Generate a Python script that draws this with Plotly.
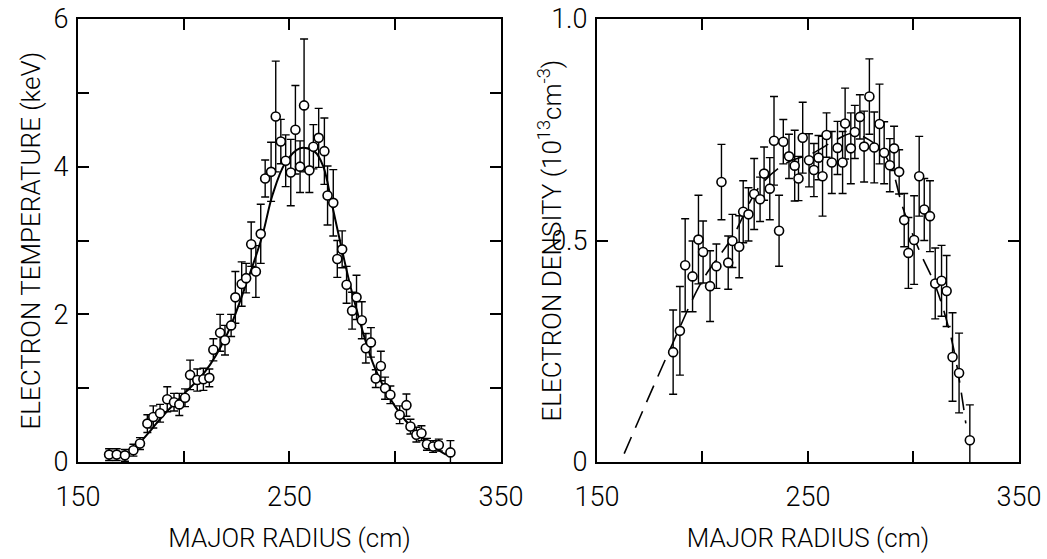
import plotly.graph_objects as go

# ---- Left panel: electron temperature ----
r_te = [164.7, 168.3, 172.2, 176.2, 179.3, 182.8, 185.6, 188.8, 192.2, 195.4,
        197.9, 200.6, 203.0, 206.4, 209.3, 212.1, 214.0, 217.2, 219.5, 222.4,
        224.4, 227.4, 229.5, 231.9, 234.1, 236.4, 238.5, 241.3, 243.5, 245.9,
        248.2, 250.6, 252.8, 255.0, 256.9, 259.4, 261.3, 263.8, 266.5, 268.0,
        270.7, 272.6, 274.9, 277.0, 279.6, 281.7, 284.2, 286.1, 288.5, 290.8,
        293.2, 295.2, 297.7, 302.1, 305.3, 307.2, 310.0, 312.4, 315.0, 317.9,
        320.6, 326.1]
te = [0.10, 0.10, 0.09, 0.16, 0.25, 0.52, 0.61, 0.66, 0.85, 0.81,
      0.78, 0.87, 1.18, 1.11, 1.12, 1.14, 1.52, 1.75, 1.65, 1.85,
      2.23, 2.41, 2.49, 2.95, 2.58, 3.09, 3.84, 3.93, 4.68, 4.34,
      4.08, 3.92, 4.50, 4.00, 4.83, 3.95, 4.27, 4.39, 4.21, 3.61,
      3.51, 2.75, 2.88, 2.40, 2.05, 2.23, 1.92, 1.54, 1.62, 1.13,
      1.30, 1.00, 0.91, 0.64, 0.77, 0.48, 0.37, 0.39, 0.24, 0.21,
      0.23, 0.13]
te_err = [0.08, 0.08, 0.08, 0.08, 0.08, 0.12, 0.15, 0.12, 0.17, 0.12,
          0.15, 0.12, 0.20, 0.15, 0.15, 0.12, 0.15, 0.25, 0.20, 0.15,
          0.35, 0.30, 0.20, 0.30, 0.35, 0.40, 0.25, 0.40, 0.75, 0.30,
          0.35, 0.45, 0.60, 0.35, 0.90, 0.30, 0.30, 0.40, 0.45, 0.40,
          0.45, 0.25, 0.25, 0.25, 0.25, 0.30, 0.25, 0.20, 0.20, 0.12,
          0.20, 0.15, 0.12, 0.12, 0.15, 0.10, 0.10, 0.10, 0.08, 0.08,
          0.08, 0.16]
r_te_fit = [178, 185, 190, 200, 210, 220, 230, 237, 242, 248, 255, 262, 266,
            270, 275, 280, 290, 300, 310, 320, 324]
te_fit = [0.22, 0.45, 0.62, 0.92, 1.22, 1.70, 2.45, 3.05, 3.62, 4.05, 4.25,
          4.20, 4.00, 3.50, 2.85, 2.25, 1.30, 0.75, 0.40, 0.17, 0.10]

# ---- Right panel: electron density ----
r_ne = [186.1, 189.3, 191.8, 195.3, 198.1, 200.3, 203.6, 206.6, 209.0, 212.2,
        214.2, 217.4, 219.3, 221.8, 224.5, 227.3, 229.2, 231.9, 233.9, 236.3,
        238.3, 241.0, 243.7, 245.5, 247.5, 250.5, 252.8, 255.0, 256.9, 258.8,
        261.3, 264.0, 266.4, 267.6, 270.3, 272.2, 274.6, 276.6, 279.1, 281.4,
        283.9, 286.1, 288.8, 290.8, 293.2, 295.6, 297.6, 300.3, 302.7, 305.1,
        307.8, 310.3, 313.3, 315.7, 318.5, 321.6, 326.7]
ne = [0.248, 0.296, 0.444, 0.419, 0.502, 0.474, 0.397, 0.442, 0.632, 0.450,
      0.499, 0.486, 0.565, 0.559, 0.605, 0.593, 0.651, 0.617, 0.725, 0.522,
      0.723, 0.690, 0.669, 0.640, 0.732, 0.681, 0.659, 0.687, 0.645, 0.738,
      0.676, 0.709, 0.676, 0.764, 0.708, 0.745, 0.779, 0.712, 0.825, 0.710,
      0.763, 0.698, 0.670, 0.708, 0.655, 0.546, 0.472, 0.501, 0.645, 0.570,
      0.555, 0.403, 0.409, 0.386, 0.237, 0.201, 0.049]
ne_err = [0.095, 0.10, 0.105, 0.08, 0.10, 0.07, 0.08, 0.05, 0.085, 0.06,
          0.06, 0.07, 0.07, 0.06, 0.08, 0.05, 0.06, 0.07, 0.10, 0.08,
          0.05, 0.05, 0.08, 0.05, 0.08, 0.06, 0.06, 0.05, 0.09, 0.05,
          0.07, 0.06, 0.07, 0.08, 0.08, 0.06, 0.05, 0.08, 0.085, 0.08,
          0.09, 0.07, 0.06, 0.05, 0.05, 0.06, 0.08, 0.10, 0.09, 0.07,
          0.08, 0.08, 0.08, 0.08, 0.10, 0.09, 0.08]
r_ne_fit = [162.9, 185.8, 200.0, 214.2, 226.9, 239.5, 252.2, 263.2, 271.1,
            279.0, 285.4, 290.0, 294.8, 302.7, 310.6, 318.5, 324.8]
ne_fit = [0.019, 0.267, 0.410, 0.508, 0.621, 0.674, 0.697, 0.727, 0.742,
          0.727, 0.700, 0.659, 0.576, 0.478, 0.395, 0.267, 0.087]

x_tickvals = [150, 200, 250, 300, 350]
x_ticktext = ["150", "", "250", "", "350"]
te_tickvals = [0, 1, 2, 3, 4, 5, 6]
te_ticktext = ["0", "", "2", "", "4", "", "6"]
ne_tickvals = [0, 0.5, 1.0]
ne_ticktext = ["0", "0.5", "1.0"]

FONT = "Roboto, Liberation Sans, sans-serif"
TICKFONT = dict(family=FONT, size=27, color="black", weight=300)
TITLEFONT = dict(family=FONT, size=26, color="black", weight=300)

fig = go.Figure()

fig.add_trace(go.Scatter(x=r_te_fit, y=te_fit, mode="lines",
                         line=dict(color="black", width=2, shape="spline"),
                         xaxis="x", yaxis="y", showlegend=False))
fig.add_trace(go.Scatter(x=r_te, y=te, mode="markers",
                         marker=dict(symbol="circle", size=9, color="white",
                                     line=dict(color="black", width=1.6)),
                         error_y=dict(type="data", array=te_err, color="black",
                                      thickness=1.4, width=4),
                         xaxis="x", yaxis="y", showlegend=False))

fig.add_trace(go.Scatter(x=r_ne_fit, y=ne_fit, mode="lines",
                         line=dict(color="black", width=1.6, dash="18px,10px",
                                   shape="spline"),
                         xaxis="x2", yaxis="y2", showlegend=False))
fig.add_trace(go.Scatter(x=r_ne, y=ne, mode="markers",
                         marker=dict(symbol="circle", size=9, color="white",
                                     line=dict(color="black", width=1.6)),
                         error_y=dict(type="data", array=ne_err, color="black",
                                      thickness=1.4, width=4),
                         xaxis="x2", yaxis="y2", showlegend=False))

axis_common = dict(showgrid=False, zeroline=False, showline=True, linecolor="black",
                   linewidth=2, mirror="ticks", ticks="inside", ticklen=11,
                   tickwidth=2, tickcolor="black", automargin=False,
                   ticklabeloverflow="allow", tickfont=TICKFONT)

fig.update_layout(
    width=1047, height=559,
    margin=dict(l=78, r=28, t=19, b=97),
    paper_bgcolor="white", plot_bgcolor="white",
    font=dict(family=FONT, color="black"),
    xaxis=dict(domain=[0, 0.4495], range=[150, 350], tickvals=x_tickvals,
               ticktext=x_ticktext, anchor="y", ticklabelstandoff=10,
               title=dict(text="MAJOR RADIUS (cm)", standoff=16, font=TITLEFONT),
               **axis_common),
    yaxis=dict(domain=[0, 1], range=[0, 6], tickvals=te_tickvals,
               ticktext=te_ticktext, anchor="x", ticklabelstandoff=2,
               **axis_common),
    xaxis2=dict(domain=[0.5515, 1], range=[150, 350], tickvals=x_tickvals,
                ticktext=x_ticktext, anchor="y2", ticklabelstandoff=10,
                title=dict(text="MAJOR RADIUS (cm)", standoff=16, font=TITLEFONT),
                **axis_common),
    yaxis2=dict(domain=[0, 1], range=[0, 1.0], tickvals=ne_tickvals,
                ticktext=ne_ticktext, anchor="x2", ticklabelstandoff=2,
                **axis_common),
    annotations=[
        dict(text="ELECTRON TEMPERATURE (keV)", xref="paper", yref="paper",
             x=-0.051, y=0.5, xanchor="center", yanchor="middle", textangle=-90,
             showarrow=False, font=TITLEFONT),
        dict(text="ELECTRON DENSITY (10<sup>13</sup>cm<sup>-3</sup>)",
             xref="paper", yref="paper", x=0.5016, y=0.5, xanchor="center",
             yanchor="middle", textangle=-90, showarrow=False, font=TITLEFONT),
    ],
)

# remove the default 8px page margin so the figure fills the window exactly
fig.write_html("out.html", config={"displayModeBar": False},
               post_script="document.body.style.margin='0';")
